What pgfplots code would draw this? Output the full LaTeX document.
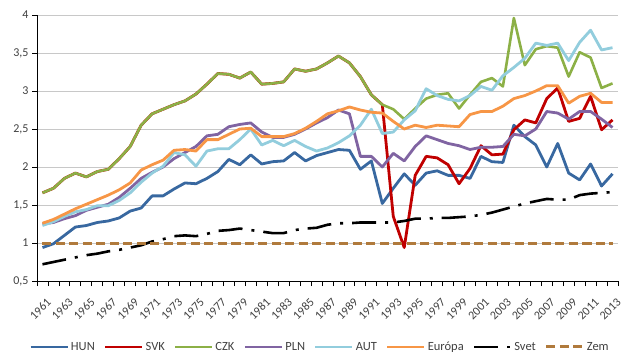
\documentclass[border=0pt]{standalone}
\usepackage{pgfplots}
\usepackage{pgfplotstable}
\usepackage{fontspec}
\setmainfont{Carlito}
\pgfplotsset{compat=1.18}
\definecolor{cHUN}{RGB}{56,104,160}
\definecolor{cSVK}{RGB}{192,0,0}
\definecolor{cCZK}{RGB}{140,176,70}
\definecolor{cPLN}{RGB}{128,100,162}
\definecolor{cAUT}{RGB}{146,205,221}
\definecolor{cEUR}{RGB}{247,150,70}
\definecolor{cZEM}{RGB}{176,122,60}
\definecolor{ctxt}{RGB}{64,64,64}
\definecolor{cgrid}{RGB}{200,200,200}
\pgfplotstableread{
year hun svk czk pln aut eur svet zem
1961 0.94 1.66 1.66 1.25 1.23 1.26 0.72 1
1962 0.99 1.72 1.72 1.27 1.28 1.31 0.75 1
1963 1.10 1.85 1.85 1.32 1.35 1.38 0.78 1
1964 1.21 1.92 1.92 1.36 1.41 1.45 0.81 1
1965 1.23 1.87 1.87 1.43 1.44 1.51 0.84 1
1966 1.27 1.94 1.94 1.47 1.49 1.57 0.86 1
1967 1.29 1.97 1.97 1.51 1.49 1.63 0.89 1
1968 1.33 2.11 2.11 1.60 1.56 1.70 0.91 1
1969 1.42 2.27 2.27 1.72 1.66 1.79 0.94 1
1970 1.46 2.55 2.55 1.85 1.80 1.96 0.97 1
1971 1.62 2.70 2.70 1.93 1.92 2.03 1.02 1
1972 1.62 2.76 2.76 2.00 2.01 2.09 1.05 1
1973 1.71 2.82 2.82 2.11 2.19 2.22 1.09 1
1974 1.79 2.87 2.87 2.19 2.16 2.23 1.10 1
1975 1.78 2.96 2.96 2.27 2.01 2.21 1.09 1
1976 1.85 3.09 3.09 2.41 2.21 2.36 1.12 1
1977 1.94 3.23 3.23 2.43 2.24 2.36 1.16 1
1978 2.10 3.22 3.22 2.53 2.24 2.43 1.17 1
1979 2.03 3.17 3.17 2.56 2.36 2.50 1.19 1
1980 2.16 3.25 3.25 2.58 2.50 2.51 1.17 1
1981 2.04 3.09 3.09 2.46 2.29 2.40 1.15 1
1982 2.07 3.10 3.10 2.39 2.35 2.40 1.13 1
1983 2.08 3.12 3.12 2.39 2.28 2.40 1.13 1
1984 2.19 3.29 3.29 2.43 2.35 2.44 1.17 1
1985 2.08 3.26 3.26 2.50 2.27 2.51 1.19 1
1986 2.15 3.29 3.29 2.58 2.21 2.60 1.20 1
1987 2.19 3.37 3.37 2.65 2.25 2.70 1.24 1
1988 2.23 3.46 3.46 2.75 2.32 2.74 1.26 1
1989 2.22 3.37 3.37 2.70 2.41 2.79 1.26 1
1990 1.97 3.19 3.19 2.14 2.55 2.75 1.27 1
1991 2.08 2.95 2.95 2.14 2.76 2.72 1.27 1
1992 1.52 2.82 2.82 2.00 2.44 2.71 1.27 1
1993 1.72 1.35 2.76 2.18 2.46 2.60 1.27 1
1994 1.91 0.94 2.63 2.08 2.62 2.50 1.29 1
1995 1.76 1.89 2.77 2.27 2.74 2.55 1.32 1
1996 1.92 2.14 2.90 2.41 3.03 2.52 1.32 1
1997 1.95 2.12 2.95 2.36 2.94 2.55 1.33 1
1998 1.89 2.03 2.97 2.31 2.89 2.54 1.33 1
1999 1.89 1.78 2.77 2.28 2.87 2.53 1.34 1
2000 1.85 1.98 2.95 2.23 2.94 2.69 1.35 1
2001 2.14 2.28 3.12 2.26 3.06 2.73 1.37 1
2002 2.07 2.16 3.17 2.26 3.01 2.73 1.40 1
2003 2.06 2.17 3.06 2.27 3.20 2.80 1.44 1
2004 2.55 2.49 3.96 2.43 3.31 2.90 1.48 1
2005 2.40 2.62 3.34 2.41 3.43 2.94 1.52 1
2006 2.29 2.58 3.55 2.50 3.63 3.00 1.55 1
2007 2.00 2.90 3.59 2.73 3.60 3.07 1.58 1
2008 2.31 3.04 3.57 2.71 3.63 3.07 1.57 1
2009 1.92 2.60 3.19 2.63 3.40 2.84 1.57 1
2010 1.83 2.64 3.51 2.73 3.64 2.93 1.63 1
2011 2.04 2.93 3.44 2.73 3.80 2.97 1.65 1
2012 1.75 2.49 3.04 2.63 3.54 2.85 1.66 1
2013 1.91 2.62 3.10 2.52 3.57 2.85 1.67 1
}\data
\begin{document}
\begin{tikzpicture}
\useasboundingbox (0,0) rectangle (640pt,360pt);
\begin{axis}[
  at={(37pt,79pt)}, anchor=south west,
  scale only axis, width=581pt, height=266pt,
  xmin=1960.5, xmax=2013.5, ymin=0.5, ymax=4,
  axis lines=left,
  axis line style={-, black, line width=1pt},
  xtick={1961,1963,...,2013},
  minor xtick={1960.5,1961.5,...,2013.5},
  major x tick style={draw=none},
  minor x tick style={black, line width=0.8pt},
  minor tick length=5pt,
  ytick={0.5,1,...,4},
  major y tick style={black, line width=0.8pt},
  major tick length=5pt,
  tick align=outside,
  ymajorgrids,
  major grid style={cgrid, line width=0.8pt},
  tick label style={font=\fontsize{12}{14}\selectfont, text=ctxt, /pgf/number format/assume math mode=true},
  xticklabel style={rotate=45, anchor=north east, inner sep=0.5pt, yshift=-10pt, xshift=-5pt, /pgf/number format/1000 sep={}},
  yticklabel style={/pgf/number format/use comma},
  legend columns=8,
  legend style={draw=none, fill=none, at={(0.487,-0.248)}, anchor=center,
    font=\fontsize{12.5}{14}\selectfont, text=ctxt,
    /tikz/every even column/.append style={column sep=7pt}},
  legend image code/.code={\draw[#1] (0pt,0pt) -- (37pt,0pt);},
  every axis plot/.append style={line join=round},
]
\addplot[cHUN, line width=2.8pt] table[x=year,y=hun]{\data};
\addlegendentry{HUN}
\addplot[cSVK, line width=2.8pt] table[x=year,y=svk]{\data};
\addlegendentry{SVK}
\addplot[cCZK, line width=2.6pt] table[x=year,y=czk]{\data};
\addlegendentry{CZK}
\addplot[cPLN, line width=2.8pt] table[x=year,y=pln]{\data};
\addlegendentry{PLN}
\addplot[cAUT, line width=2.8pt] table[x=year,y=aut]{\data};
\addlegendentry{AUT}
\addplot[cEUR, line width=2.8pt] table[x=year,y=eur]{\data};
\addlegendentry{Európa}
\addplot[black, line width=2.6pt, dash pattern=on 24pt off 9pt on 3pt off 9pt, line join=miter] table[x=year,y=svet]{\data};
\addlegendentry{Svet}
\addplot[cZEM, line width=3pt, dash pattern=on 9pt off 4.5pt] table[x=year,y=zem]{\data};
\addlegendentry{Zem}
\end{axis}
\end{tikzpicture}
\end{document}
